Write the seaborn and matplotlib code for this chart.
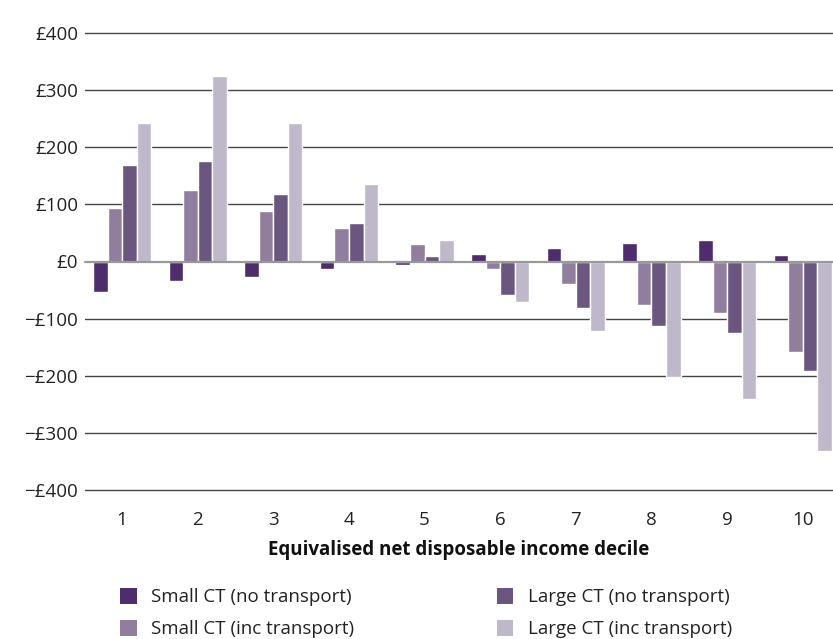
import matplotlib
matplotlib.use("Agg")
import matplotlib.pyplot as plt
import matplotlib.patches as mpatches
import seaborn as sns
import pandas as pd

deciles = ["1", "2", "3", "4", "5", "6", "7", "8", "9", "10"]
small_no_transport = [-53, -35, -27, -14, -6, 14, 24, 32, 37, 11]
small_inc_transport = [93, 125, 89, 59, 30, -13, -39, -77, -91, -158]
large_no_transport = [169, 176, 118, 68, 9, -59, -82, -113, -125, -192]
large_inc_transport = [243, 324, 243, 136, 37, -71, -122, -202, -240, -331]

series_names = ["Small CT (no transport)", "Small CT (inc transport)",
                "Large CT (no transport)", "Large CT (inc transport)"]
colors = ["#4d2d6b", "#917e9e", "#6b5680", "#bfb7ca"]
y_ticks = [-400, -300, -200, -100, 0, 100, 200, 300, 400]
y_labels = ["\u2212£400", "\u2212£300", "\u2212£200", "\u2212£100", "£0",
            "£100", "£200", "£300", "£400"]

rows = []
for name, vals in zip(series_names, [small_no_transport, small_inc_transport,
                                      large_no_transport, large_inc_transport]):
    for d, v in zip(deciles, vals):
        rows.append({"decile": d, "value": v, "series": name})
df = pd.DataFrame(rows)

sns.set_theme(style="white")
plt.rcParams["font.family"] = ["Open Sans", "DejaVu Sans"]
FS = 13.5

fig = plt.figure(figsize=(8.33, 6.39), dpi=100)
ax = fig.add_axes([85 / 833, 1 - 490 / 639, 748 / 833, 457 / 639])

sns.barplot(data=df, x="decile", y="value", hue="series", order=deciles,
            hue_order=series_names, palette=colors, width=0.77, gap=0,
            saturation=1, ax=ax, legend=False, errorbar=None, zorder=3)

ax.set_ylim(-400, 400)
ax.set_xlim(-0.49, 9.40)
ax.set_yticks(y_ticks)
ax.set_yticklabels(y_labels, fontsize=FS, color="#222222")
ax.tick_params(axis="x", labelsize=FS, colors="#222222", length=0, pad=15)
ax.tick_params(axis="y", length=0, pad=5)
for t in y_ticks:
    if t == 0:
        ax.axhline(t, color="#999999", lw=1.6, zorder=4, clip_on=False)
    else:
        ax.axhline(t, color="#444444", lw=1.0, zorder=1, clip_on=False)
for s in ax.spines.values():
    s.set_visible(False)
ax.set_ylabel("")
ax.set_xlabel("Equivalised net disposable income decile", fontsize=FS,
              fontweight="bold", color="#111111", labelpad=8)

handles = [mpatches.Patch(facecolor=c, edgecolor="none", label=n)
           for c, n in zip(colors, series_names)]
fig.legend(handles=handles, ncol=2, loc="upper left",
           bbox_to_anchor=(105 / 833, 1 - 573 / 639), frameon=False,
           fontsize=FS, handlelength=0.9, handleheight=0.9,
           columnspacing=7.6, labelspacing=0.74, handletextpad=0.75,
           labelcolor="#222222", borderpad=0.3)

fig.savefig("out.png", dpi=100)
